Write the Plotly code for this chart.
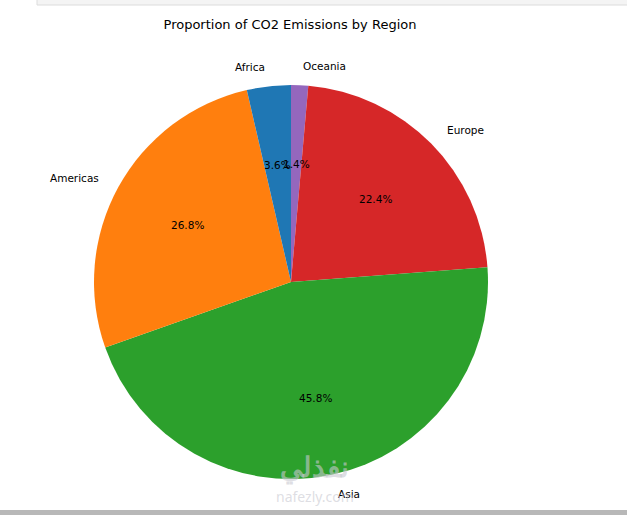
import numpy as np
import plotly.graph_objects as go

# Data
regions = ['Africa', 'Americas', 'Asia', 'Europe', 'Oceania']
shares = [3.6, 26.8, 45.8, 22.4, 1.4]
colors = ['#1f77b4', '#ff7f0e', '#2ca02c', '#d62728', '#9467bd']

W, H = 627, 515
CX, CY, R = 291, 282, 197  # pie centre / radius in pixels (from top-left)
FONT = 'DejaVu Sans'

fig = go.Figure()
# matplotlib draws counterclockwise from 90 deg; same as clockwise from top with order reversed
fig.add_trace(go.Pie(
    labels=regions[::-1],
    values=shares[::-1],
    sort=False,
    direction='clockwise',
    rotation=0,
    marker=dict(colors=colors[::-1], line=dict(width=0)),
    textinfo='none',
    hoverinfo='label+percent',
    showlegend=False,
    domain=dict(x=[(CX - R) / W, (CX + R) / W],
                y=[(H - CY - R) / H, (H - CY + R) / H]),
))

# labels outside at 1.1 r, percentages inside at 0.6 r (matplotlib style)
total = sum(shares)
frac = np.array(shares) / total
mids = 90 + 360 * (np.cumsum(frac) - frac / 2)
annotations = []
for name, f, ang in zip(regions, frac, mids):
    c, s = np.cos(np.radians(ang)), np.sin(np.radians(ang))
    lx, ly = CX + 1.1 * R * c, CY - 1.1 * R * s
    annotations.append(dict(
        x=lx / W, y=1 - ly / H, xref='paper', yref='paper',
        text=name, showarrow=False,
        xanchor='left' if c > 0 else 'right', yanchor='middle',
        font=dict(family=FONT, size=10.5, color='black')))
    px, py = CX + 0.6 * R * c, CY - 0.6 * R * s
    annotations.append(dict(
        x=px / W, y=1 - py / H, xref='paper', yref='paper',
        text=f'{f * 100:.1f}%', showarrow=False,
        xanchor='center', yanchor='middle',
        font=dict(family=FONT, size=10.5, color='black')))

# watermark
annotations.append(dict(x=314 / W, y=1 - 487 / H, xref='paper', yref='paper',
                        text='<b>نفذلي</b>', showarrow=False,
                        font=dict(family='Noto Sans', size=28, color='rgba(200,200,208,0.6)')))
annotations.append(dict(x=315 / W, y=1 - 508 / H, xref='paper', yref='paper',
                        text='nafezly.com', showarrow=False,
                        font=dict(family='Noto Sans', size=14, color='rgba(200,200,208,0.6)')))

fig.update_layout(
    width=W, height=H,
    margin=dict(l=0, r=0, t=0, b=0),
    paper_bgcolor='white',
    plot_bgcolor='white',
    title=dict(text='Proportion of CO2 Emissions by Region',
               x=290 / W, xanchor='center', y=1 - 24 / H, yanchor='middle',
               font=dict(family=FONT, size=13, color='black')),
    annotations=annotations,
    shapes=[
        dict(type='rect', xref='paper', yref='paper',
             x0=37 / W, x1=1.01, y0=1 - 5 / H, y1=1.01,
             fillcolor='#f4f4f4', line=dict(color='#dcdcdc', width=1)),
        dict(type='rect', xref='paper', yref='paper',
             x0=-0.01, x1=1.01, y0=-0.01, y1=5 / H,
             fillcolor='#b8b8b8', line=dict(width=0)),
    ],
)

fig.write_html('out.html', config={'displayModeBar': False},
               post_script="document.body.style.margin='0px';document.body.style.overflow='hidden';")
